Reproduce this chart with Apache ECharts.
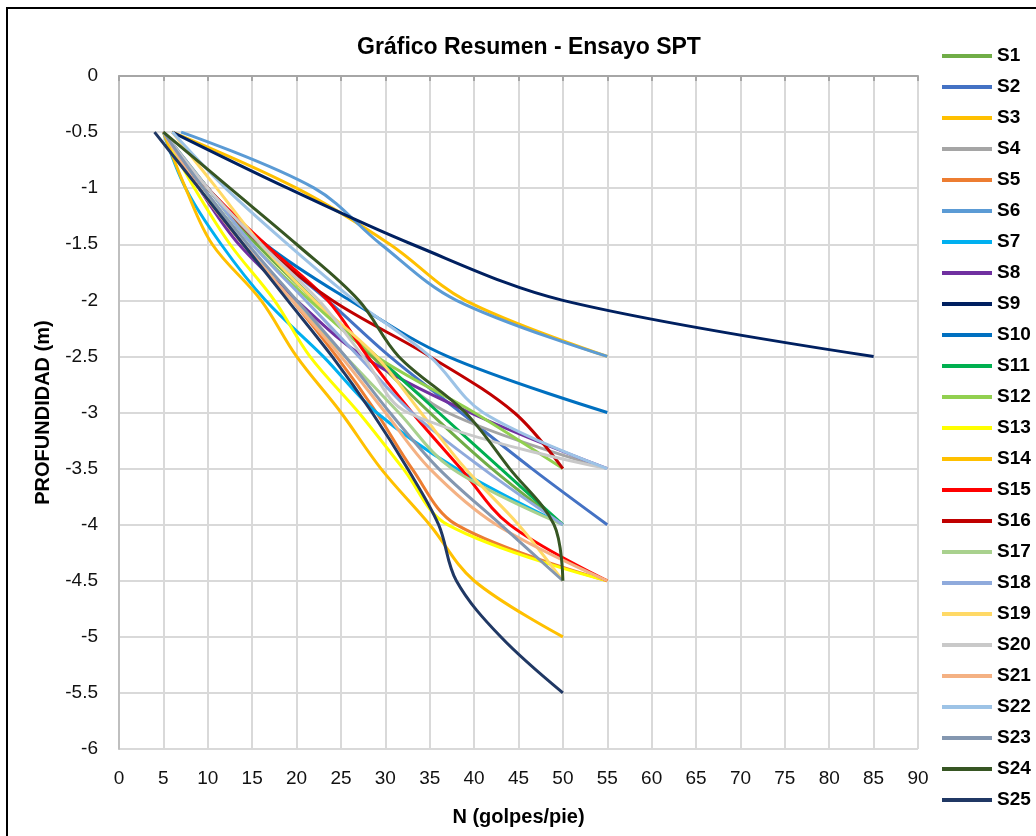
<!DOCTYPE html>
<html>
<head>
<meta charset="utf-8">
<title>Gráfico Resumen - Ensayo SPT</title>
<script src="https://cdn.jsdelivr.net/npm/echarts@6/dist/echarts.min.js"></script>
<style>
    html, body { margin: 0; padding: 0; background: #fff; }
    #chart { width: 1036px; height: 836px; }
</style>
</head>
<body>
<div id="chart"></div>
<script>
// profundidades de cada ensayo (m)
const depths = [-0.5, -1, -1.5, -2, -2.5, -3, -3.5, -4, -4.5, -5, -5.5];

// N (golpes/pie) por sondaje, en el orden de las profundidades
const S1 = [5, 10, 15.5, 22, 28.5, 35, 42, 50];
const S2 = [5, 10, 16, 23.5, 30.5, 38.5, 46.5, 55];
const S3 = [6, 20, 30.5, 39, 55];
const S4 = [5, 10, 16, 22, 29, 37, 55];
const S5 = [5, 9, 14, 19.5, 24.5, 29, 33, 38, 55];
const S6 = [7, 22, 29.5, 38, 55];
const S7 = [5, 7.5, 11.5, 16.5, 23, 29, 38, 50];
const S8 = [5, 9, 13.5, 20, 27.5, 39.5, 55];
const S9 = [6, 19, 33, 50, 85];
const S10 = [5, 10, 16.5, 26, 37, 55];
const S11 = [5, 10, 16, 22, 29, 36, 43, 50];
const S12 = [5, 10, 15, 21.5, 29, 40, 50];
const S13 = [5, 8.5, 12.5, 17.5, 21.5, 27, 32, 37, 55];
const S14 = [5, 7.5, 10.5, 16, 20, 25, 29.5, 35, 40, 50];
const S15 = [5, 10, 16.5, 23.5, 28, 33, 38.5, 44, 55];
const S16 = [5, 10, 16, 24, 35, 44.5, 50];
const S17 = [5, 9.5, 14, 19.5, 25.5, 31.5, 37.5, 50];
const S18 = [5, 10, 15, 21, 27, 33, 41, 50];
const S19 = [6, 11, 16, 22, 29, 34, 39, 45, 50];
const S20 = [5, 10, 16, 22.5, 27.5, 32.5, 55];
const S21 = [5, 9, 14, 19.5, 25, 30, 35, 42.5, 55];
const S22 = [6, 12, 19, 26.5, 35, 41, 55];
const S23 = [5, 9.5, 14.5, 20, 25.5, 30.5, 36, 43, 50];
const S24 = [5, 12.5, 20, 27, 31.5, 39, 44, 49, 50];
const S25 = [4, 9, 14, 19, 24, 28.5, 32.5, 36, 38, 43, 50];

const seriesNames = ['S1', 'S2', 'S3', 'S4', 'S5', 'S6', 'S7', 'S8', 'S9', 'S10', 'S11', 'S12', 'S13',
    'S14', 'S15', 'S16', 'S17', 'S18', 'S19', 'S20', 'S21', 'S22', 'S23', 'S24', 'S25'];
const seriesValues = [S1, S2, S3, S4, S5, S6, S7, S8, S9, S10, S11, S12, S13,
    S14, S15, S16, S17, S18, S19, S20, S21, S22, S23, S24, S25];
const colors = ['#70AD47', '#4472C4', '#FFC000', '#A5A5A5', '#ED7D31', '#5B9BD5', '#00B0F0', '#7030A0',
    '#002060', '#0070C0', '#00B050', '#92D050', '#FFFF00', '#FFC000', '#FF0000', '#C00000', '#A9D18E',
    '#8FAADC', '#FFD966', '#C9C9C9', '#F4B183', '#9DC3E6', '#8497B0', '#375623', '#203864'];

const FONT = "'Liberation Sans', Arial, sans-serif";

const chart = echarts.init(document.getElementById('chart'));

const series = seriesNames.map((name, i) => ({
    name: name,
    type: 'line',
    xAxisIndex: 0,
    smooth: 0.35,
    symbol: 'none',
    color: colors[i],
    lineStyle: { width: 3, color: colors[i] },
    data: seriesValues[i].map((n, k) => [n, depths[k]])
}));

const option = {
    animation: false,
    backgroundColor: '#fff',
    title: {
        text: 'Gráfico Resumen - Ensayo SPT',
        left: 524,
        textAlign: 'center',
        top: 31,
        textStyle: { fontFamily: FONT, fontSize: 23, fontWeight: 'bold', color: '#000' }
    },
    legend: {
        orient: 'vertical',
        left: 942,
        top: 46,
        padding: 0,
        icon: 'rect',
        itemWidth: 50,
        itemHeight: 4,
        itemGap: 11,
        data: seriesNames,
        textStyle: { fontFamily: FONT, fontSize: 19, fontWeight: 'bold', color: '#000', lineHeight: 20, padding: [0, 0, 0, 0] }
    },
    grid: { left: 119, right: 118, top: 76, bottom: 87 },
    xAxis: [{
        type: 'value',
        position: 'bottom',
        min: 0,
        max: 90,
        interval: 5,
        name: 'N (golpes/pie)',
        nameLocation: 'middle',
        nameGap: 58,
        nameTextStyle: { fontFamily: FONT, fontSize: 20, fontWeight: 'bold', color: '#000' },
        axisLine: { show: false },
        axisTick: { show: false },
        axisLabel: { fontFamily: FONT, fontSize: 19, color: '#111', margin: 20 },
        splitLine: { lineStyle: { color: '#D9D9D9', width: 2 } }
    }, {
        type: 'value',
        position: 'top',
        min: 0,
        max: 90,
        interval: 5,
        axisLine: { lineStyle: { color: '#A6A6A6', width: 2 } },
        axisTick: { inside: true, length: 5, lineStyle: { color: '#A6A6A6', width: 2 } },
        axisLabel: { show: false },
        splitLine: { show: false }
    }],
    yAxis: {
        type: 'value',
        min: -6,
        max: 0,
        interval: 0.5,
        name: 'PROFUNDIDAD (m)',
        nameLocation: 'middle',
        nameGap: 66,
        nameTextStyle: { fontFamily: FONT, fontSize: 20, fontWeight: 'bold', color: '#000' },
        axisLine: { show: true, lineStyle: { color: '#BFBFBF', width: 2 } },
        axisTick: { show: false },
        axisLabel: { fontFamily: FONT, fontSize: 19, color: '#111', margin: 21 },
        splitLine: { lineStyle: { color: '#D9D9D9', width: 2 } }
    },
    graphic: [{
        type: 'rect',
        shape: { x: 7, y: 8, width: 1200, height: 1000 },
        style: { fill: 'none', stroke: '#000', lineWidth: 2 },
        silent: true
    }],
    series: series
};

chart.setOption(option);
</script>
</body>
</html>
